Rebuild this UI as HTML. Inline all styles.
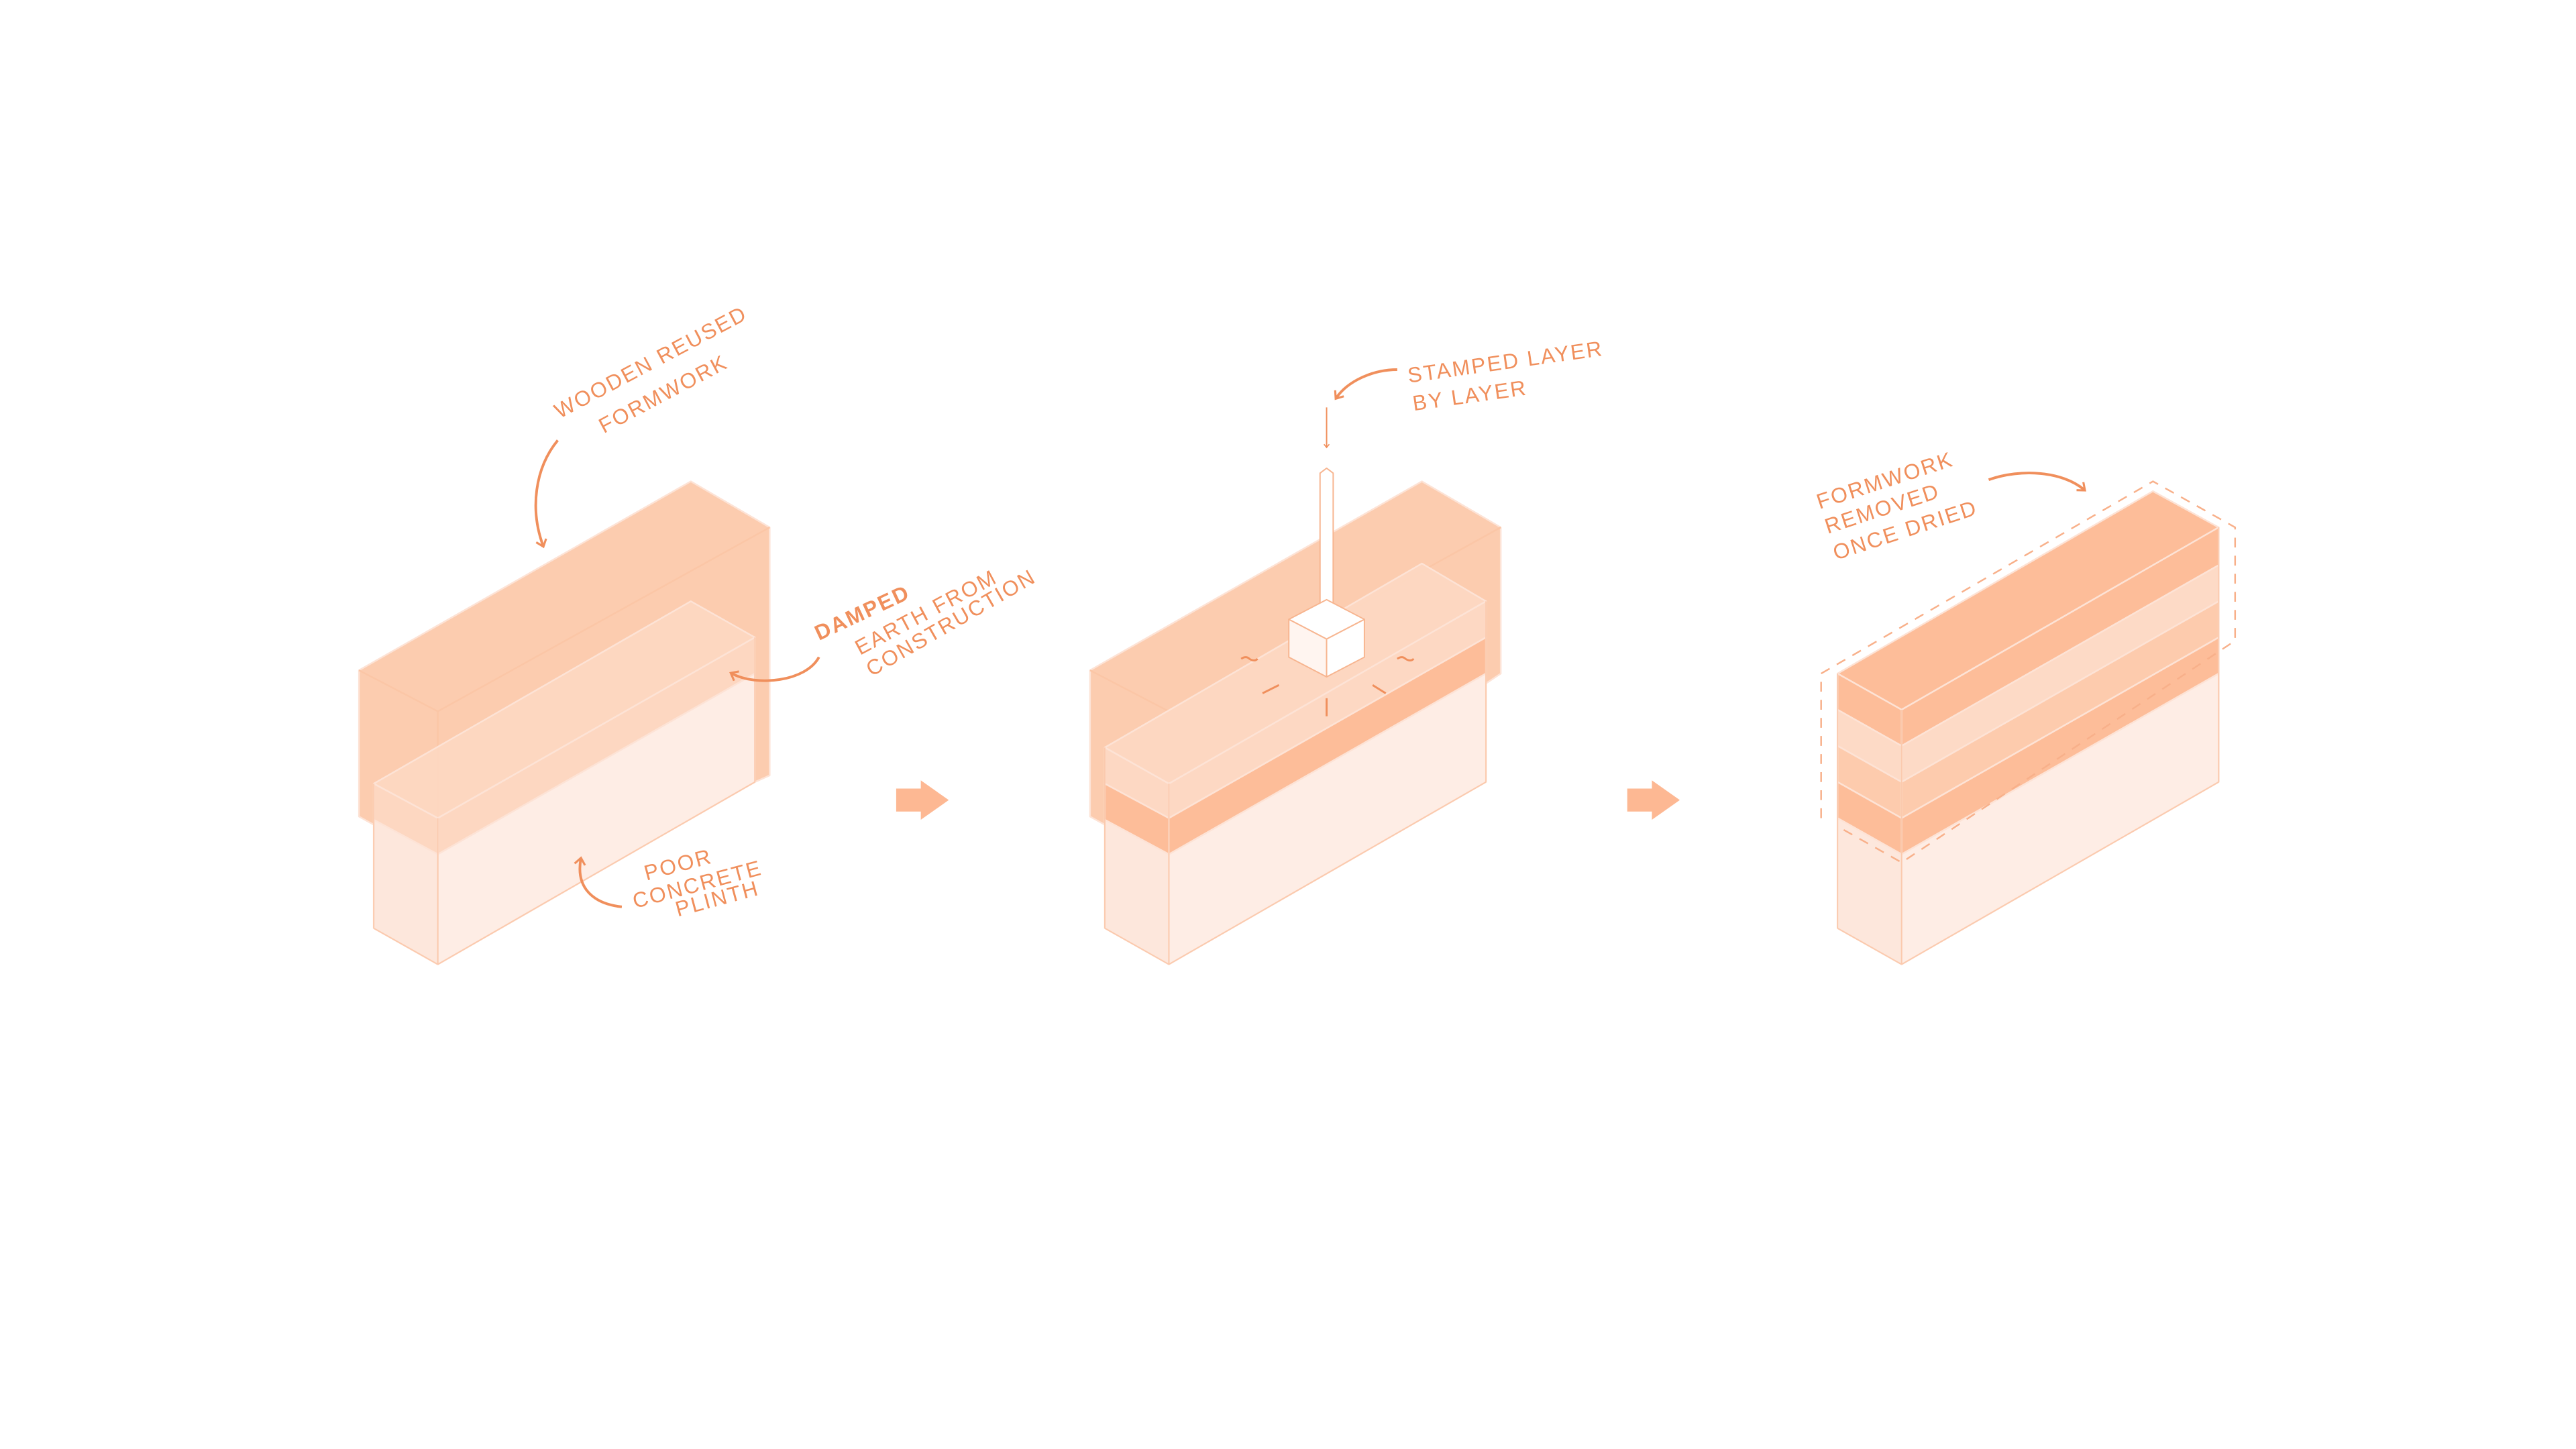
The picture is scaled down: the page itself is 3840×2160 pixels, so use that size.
<!DOCTYPE html>
<html><head><meta charset="utf-8"><style>
html,body{margin:0;padding:0;background:#fff;width:3840px;height:2160px;overflow:hidden}
svg{display:block}
text{font-family:"Liberation Sans",sans-serif;fill:#f08f5c;font-size:13px;letter-spacing:1px}
</style></head><body>
<svg width="3840" height="2160" viewBox="0 0 1567 882" xmlns="http://www.w3.org/2000/svg">
<defs>
<marker id="ah" viewBox="0 0 10 10" refX="5" refY="5" markerWidth="5" markerHeight="5" orient="auto-start-reverse">
<path d="M1,1 L6,5 L1,9" fill="none" stroke="#f08f5c" stroke-width="1.6"/></marker>
</defs>
<g stroke="#fde3d6" stroke-width="1" stroke-linejoin="round">
<!-- Scene 1 -->
<polygon points="218,408 420,293 468,321 468,472 459,476 266,587 227,565 227,502 218,497" fill="#fcccaf"/>
<line x1="266" y1="433" x2="468" y2="321" stroke="#fbc6a6"/>
<line x1="266" y1="433" x2="266" y2="520" stroke="#fbc6a6"/>
<line x1="218" y1="408" x2="266" y2="433" stroke="#fbc6a6"/>
<polygon points="227,477 420,366 459,388 266,498" fill="#fdd8c3" fill-opacity="0.85"/>
<polygon points="227,477 266,498 266,520 227,499" fill="#fdd8c3" fill-opacity="0.9"/>
<polygon points="266,498 459,388 459,410 266,520" fill="#fdd8c3" fill-opacity="0.9"/>
<polygon points="227,499 266,520 266,587 227,565" fill="#fde7dc"/>
<polygon points="266,520 459,410 459,476 266,587" fill="#feede5"/>
<!-- Scene 2 -->
<polygon points="663,408 865,293 913,321 913,410 904,416 711,520 672,499 672,502 663,497" fill="#fcccaf"/>
<line x1="711" y1="433" x2="913" y2="321" stroke="#fbc6a6"/>
<line x1="663" y1="408" x2="711" y2="433" stroke="#fbc6a6"/>
<polygon points="672,455 865,343 904,366 711,477" fill="#fdd8c3" fill-opacity="0.9"/>
<polygon points="672,455 711,477 711,498 672,477" fill="#fdd8c3"/>
<polygon points="711,477 904,366 904,388 711,498" fill="#fdd8c3"/>
<polygon points="672,477 711,498 711,520 672,499" fill="#fdbd99"/>
<polygon points="711,498 904,388 904,410 711,520" fill="#fdbd99"/>
<polygon points="672,499 711,520 711,587 672,565" fill="#fde7dc"/>
<polygon points="711,520 904,410 904,476 711,587" fill="#feede5"/>
<!-- rammer -->
<g stroke="#f7b590" stroke-width="0.8">
<polygon points="803,288 807,285 811,288 811,378 803,378" fill="#fff"/>
<polygon points="784,377 807,365 830,377 807,389" fill="#fff"/>
<polygon points="784,377 807,389 807,412 784,400" fill="#fff5f0"/>
<polygon points="807,389 830,377 830,400 807,412" fill="#fff"/>
</g>
<!-- Scene 3 -->
<polygon points="1118,410 1310,299 1350,321 1157,432" fill="#fdbd99"/>
<polygon points="1118,410 1157,432 1157,454 1118,432" fill="#fdbd99"/>
<polygon points="1157,432 1350,321 1350,344 1157,454" fill="#fdbd99"/>
<polygon points="1118,432 1157,454 1157,476 1118,454" fill="#fddac6"/>
<polygon points="1157,454 1350,344 1350,366 1157,476" fill="#fddac6"/>
<polygon points="1118,454 1157,476 1157,498 1118,476" fill="#fdcbad"/>
<polygon points="1157,476 1350,366 1350,388 1157,498" fill="#fdcbad"/>
<polygon points="1118,476 1157,498 1157,520 1118,498" fill="#fdbd99"/>
<polygon points="1157,498 1350,388 1350,410 1157,520" fill="#fdbd99"/>
<polygon points="1118,498 1157,520 1157,587 1118,565" fill="#fde7dc"/>
<polygon points="1157,520 1350,410 1350,476 1157,587" fill="#feede5"/>
</g>
<g fill="none" stroke="#fbcaae" stroke-width="0.8">
<line x1="227" y1="477" x2="227" y2="565"/><line x1="266" y1="498" x2="266" y2="587"/><line x1="459" y1="388" x2="459" y2="476"/>
<line x1="227" y1="565" x2="266" y2="587"/><line x1="266" y1="587" x2="459" y2="476"/>
<line x1="1118" y1="410" x2="1118" y2="565"/><line x1="1157" y1="432" x2="1157" y2="587"/><line x1="1350" y1="321" x2="1350" y2="476"/>
<line x1="1118" y1="565" x2="1157" y2="587"/><line x1="1157" y1="587" x2="1350" y2="476"/>
<line x1="672" y1="455" x2="672" y2="565"/><line x1="711" y1="477" x2="711" y2="587"/><line x1="904" y1="366" x2="904" y2="476"/>
<line x1="672" y1="565" x2="711" y2="587"/><line x1="711" y1="587" x2="904" y2="476"/>
</g>
<!-- dashed outline -->
<polyline points="1108,498 1108,410 1310,293 1360,321 1360,390 1157,525 1118,503" fill="none" stroke="#f8b08a" stroke-width="1" stroke-dasharray="6,5"/>
<!-- block arrows -->
<polygon points="545,480 560,480 560,475 577,487 560,499 560,494 545,494" fill="#fdb893"/>
<polygon points="990,480 1005,480 1005,475 1022,487 1005,499 1005,494 990,494" fill="#fdb893"/>
<!-- curved arrows -->
<g fill="none" stroke="#f08f5c" stroke-width="1.6" marker-end="url(#ah)">
<path d="M339,268 C325,285 322,310 330,332"/>
<path d="M498,400 C490,415 460,418 445,410"/>
<path d="M378,552 C360,550 350,540 353,523"/>
<path d="M850,225 C835,225 820,232 813,242"/>
<path d="M807,248 L807,272" stroke-width="0.8"/>
<path d="M1210,292 C1230,285 1255,287 1268,298"/>
</g>
<g stroke="#f08f5c" stroke-width="1.2" fill="none">
<path d="M755,401 q3,-2 5,0 q3,2 5,0"/><path d="M850,401 q3,-2 5,0 q3,2 5,0"/>
<line x1="768" y1="422" x2="778" y2="417"/><line x1="835" y1="417" x2="843" y2="422"/>
<line x1="807" y1="425" x2="807" y2="436"/>
</g>
<!-- labels -->
<text transform="translate(340,255) rotate(-28)">WOODEN  REUSED</text>
<text transform="translate(367,264) rotate(-28)">FORMWORK</text>
<text transform="translate(498,390) rotate(-25)" font-weight="bold">DAMPED</text>
<text transform="translate(523,399) rotate(-28)">EARTH  FROM</text>
<text transform="translate(530,412) rotate(-30)" font-size="12">CONSTRUCTION</text>
<text transform="translate(393,536) rotate(-15)" font-size="11">POOR</text>
<text transform="translate(386,553) rotate(-15)" font-size="11">CONCRETE</text>
<text transform="translate(412,558) rotate(-15)" font-size="11">PLINTH</text>
<text transform="translate(857,233) rotate(-8)">STAMPED LAYER</text>
<text transform="translate(860,250) rotate(-8)">BY  LAYER</text>
<text transform="translate(1107,310) rotate(-18)" font-size="12">FORMWORK</text>
<text transform="translate(1112,325) rotate(-18)" font-size="12">REMOVED</text>
<text transform="translate(1117,341) rotate(-18)" font-size="12">ONCE DRIED</text>
</svg>
</body></html>
